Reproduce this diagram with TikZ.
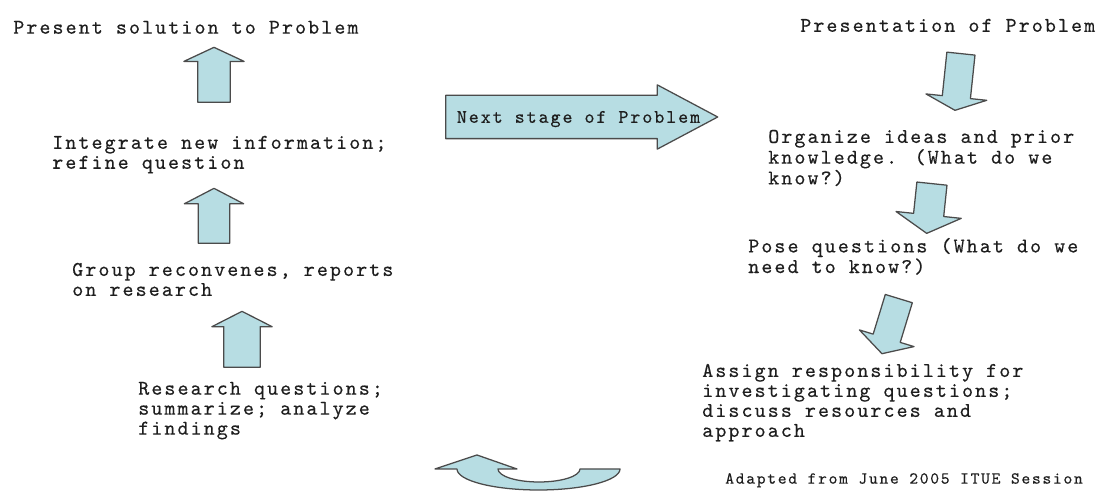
\documentclass[tikz,border=0pt]{standalone}
\usepackage{fontspec}
\newfontfamily\stagefont{lmmono10-regular.otf}[LetterSpace=10, FakeBold=0.4]
\usetikzlibrary{shapes.arrows}

\definecolor{arrowfill}{RGB}{183,221,227}
\definecolor{arrowline}{RGB}{75,75,75}
\definecolor{inkgray}{RGB}{30,30,30}

\tikzset{
  stagetext/.style={font=\stagefont\fontsize{14.9}{14.2}\selectfont, text=inkgray,
    align=left, inner sep=0pt, anchor=north west},
  blockarrow/.style={single arrow, draw=arrowline, fill=arrowfill, line width=0.9pt,
    inner xsep=0pt, single arrow head indent=0pt, line join=round, anchor=tail},
}

\begin{document}
\begin{tikzpicture}[x=0.025cm, y=0.025cm]
    \useasboundingbox (0,0) rectangle (1107,492);

    % left column (read upwards)
    \node[stagetext] (sol) at (13,471.4) {Present solution to Problem};
    \node[stagetext] (integ) at (52,356.4) {Integrate new information;\\refine question};
    \node[stagetext] (group) at (72,229.4) {Group reconvenes, reports\\on research};
    \node[stagetext] (research) at (138,110.4) {Research questions;\\summarize; analyze\\findings};

    \node[blockarrow, rotate=90, minimum height=1.375cm, inner ysep=0.3875cm,
      single arrow head extend=0.35cm, single arrow tip angle=130] (solarrow) at (214,389) {};
    \node[blockarrow, rotate=90, minimum height=1.375cm, inner ysep=0.375cm,
      single arrow head extend=0.35cm, single arrow tip angle=125] (integarrow) at (214,248) {};
    \node[blockarrow, rotate=90, minimum height=1.4cm, inner ysep=0.4375cm,
      single arrow head extend=0.3cm, single arrow tip angle=126] (grouparrow) at (242,124) {};

    % right column (read downwards)
    \node[stagetext] (pres) at (800,473.4) {Presentation of Problem};
    \node[stagetext, font=\stagefont\fontsize{14.9}{12.1}\selectfont] (organize) at (768,362.4)
      {Organize ideas and prior\\knowledge. (What do we\\know?)};
    \node[stagetext, font=\stagefont\fontsize{14.9}{10.9}\selectfont] (pose) at (748,254.4)
      {Pose questions (What do we\\need to know?)};
    \node[stagetext] (assign) at (702,128.4) {Assign responsibility for\\investigating questions;\\discuss resources and\\approach};

    \node[blockarrow, rotate=-96, minimum height=1.425cm, inner ysep=0.3375cm,
      single arrow head extend=0.41cm, single arrow tip angle=133] (organarrow) at (961,439) {};
    \node[blockarrow, rotate=-96, minimum height=1.25cm, inner ysep=0.3625cm,
      single arrow head extend=0.44cm, single arrow tip angle=121] (posearrow) at (932,309) {};
    \node[blockarrow, rotate=-107, minimum height=1.44cm, inner ysep=0.3375cm,
      single arrow head extend=0.36cm, single arrow tip angle=121] (assignarrow) at (899,194) {};

    % middle
    \node[blockarrow, minimum height=6.8cm, inner ysep=0.525cm,
      single arrow head extend=0.2625cm, single arrow tip angle=56] (nextstage) at (445,375) {};
    \node[font=\stagefont\fontsize{13.6}{14}\selectfont, text=inkgray, inner sep=0pt, anchor=base]
      (nextlabel) at (578.5,369.2) {Next stage of Problem};

    \draw[arrowline, fill=arrowfill, line width=0.9pt, line join=round] (620,23)
      arc[start angle=0, end angle=-180, x radius=81.5, y radius=21]
      -- (435,23) -- (477,37) -- (517,23) -- (498,23)
      arc[start angle=180, end angle=360, x radius=41, y radius=13] -- cycle;

    \node[stagetext, font=\stagefont\fontsize{11.95}{13}\selectfont] (adapted) at (725,19.1)
      {Adapted from June 2005 ITUE Session};
\end{tikzpicture}
\end{document}
